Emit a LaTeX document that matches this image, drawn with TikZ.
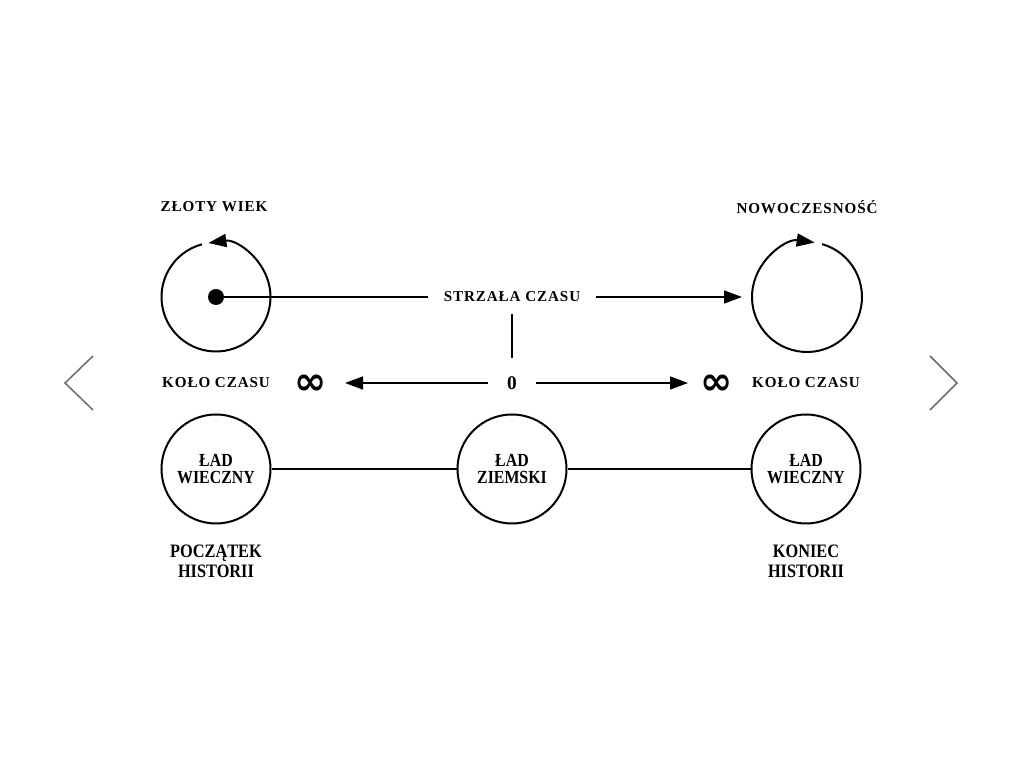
\documentclass[tikz,border=0pt]{standalone}
\usepackage{fontspec}
\setmainfont{Liberation Serif}
\newfontfamily\etykfont[LetterSpace=6]{Liberation Serif}
\newfontfamily\wezfont[FakeStretch=0.86]{Liberation Serif}
\newfontfamily\symfont{DejaVu Sans}
\usetikzlibrary{arrows.meta, positioning, calc}

\begin{document}
\begin{tikzpicture}[
    x=0.2mm, y=0.2mm,
    lin/.style={line width=0.3mm},
    grot/.style={lin, -{Triangle[length=3.6mm,width=2.6mm]}},
    etyk/.style={inner sep=1pt, font=\fontsize{8.6}{10}\selectfont\etykfont\bfseries},
    opis/.style={inner sep=1pt, align=center, font=\fontsize{10.8}{11.4}\selectfont\wezfont\bfseries},
    nieskon/.style={inner sep=1pt, font=\fontsize{22}{22}\selectfont\symfont\bfseries},
    pusty/.style={circle, minimum size=21.8mm, inner sep=0pt},
    kolo/.style={pusty, draw, line width=0.4mm, align=center,
                 font=\fontsize{10.5}{9.8}\selectfont\wezfont\bfseries}
  ]
    \useasboundingbox[fill=white] (0,0) rectangle (1024,-768);
    % gorny rzad
    \node[etyk] (zlw)  at (214,-207) {ZŁOTY WIEK};
    \node[etyk] (nowo) at (807,-207) {NOWOCZESNOŚĆ};
    \node[pusty] (zl)   at (216,-297) {};
    \node[pusty] (nowy) at (807,-297) {};
    \node[circle, fill, minimum size=3.2mm, inner sep=0pt] (kropka) at (216,-297) {};
    \node[etyk] (strz) at (512,-297) {STRZAŁA CZASU};
    \draw[line width=0.4mm, -{Triangle[length=3.6mm,width=2.6mm]}]
      ([shift={(105:10.9mm)}]zl.center) arc[start angle=105, end angle=458, radius=10.9mm];
    \draw[line width=0.4mm, -{Triangle[length=3.6mm,width=2.6mm]}]
      ([shift={(74:11mm)}]nowy.center) arc[start angle=74, end angle=-278, radius=11mm];
    \draw[lin, shorten >=16.8mm] (kropka.center) -- (strz.center);
    \draw[grot, shorten <=16.8mm, shorten >=13mm] (strz.center) -- (nowy.center);
    % srodkowy rzad
    \node[etyk] (kcl) at (216,-383) {KOŁO CZASU};
    \node[etyk] (kcp) at (806,-383) {KOŁO CZASU};
    \node[font=\fontsize{11}{12}\selectfont\bfseries] (zero) at (512,-383) {0};
    \node[nieskon] (infl) at (311,-385) {∞};
    \node[nieskon] (infp) at (717,-385) {∞};
    \draw[lin, shorten <=3.4mm, shorten >=5mm] (strz.center) -- (zero.center);
    \draw[grot, shorten <=4.8mm, shorten >=6.8mm] (zero.center) -- (zero.center -| infl.center);
    \draw[grot, shorten <=4.8mm, shorten >=5.8mm] (zero.center) -- (zero.center -| infp.center);
    % dolny rzad
    \node[kolo] (lwp) at (216,-469) {ŁAD\\WIECZNY};
    \node[kolo] (lz)  at (512,-469) {ŁAD\\ZIEMSKI};
    \node[kolo] (lwk) at (806,-469) {ŁAD\\WIECZNY};
    \draw[lin] (lwp) -- (lz) -- (lwk);
    \node[opis] (pocz) at (216,-561) {POCZĄTEK\\HISTORII};
    \node[opis] (kon)  at (806,-561) {KONIEC\\HISTORII};
    % strzalki przewijania
    \draw[line width=0.3mm, gray!85!black] (93,-356) -- (65,-383) -- (93,-410);
    \draw[line width=0.3mm, gray!85!black] (930,-356) -- (957,-383) -- (930,-410);
  \end{tikzpicture}
\end{document}
